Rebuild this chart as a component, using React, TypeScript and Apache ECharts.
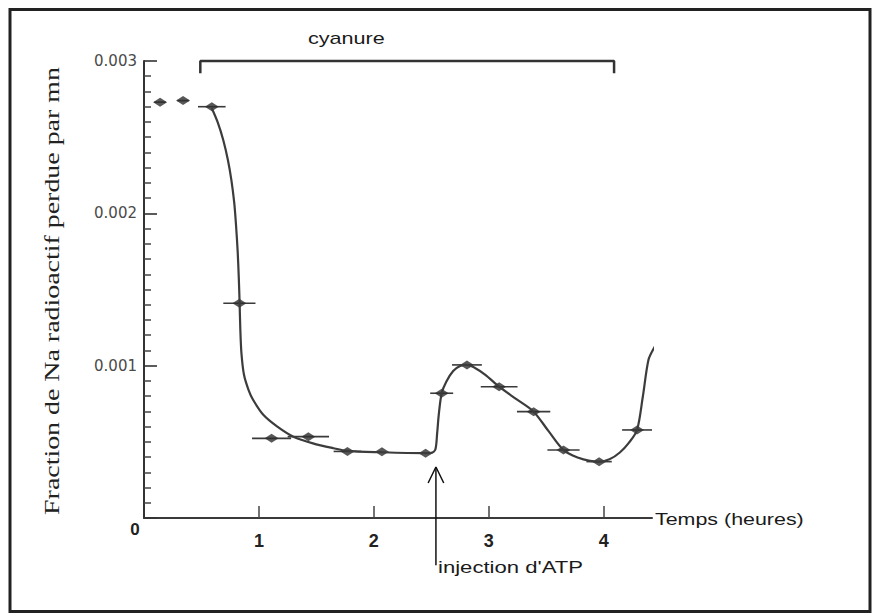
import React, { useEffect, useRef } from "react";
import * as echarts from "echarts";

// Measured points (hours, fraction per minute) and horizontal error half-widths (hours)
const pointX = [0.14, 0.34, 0.59, 0.83, 1.11, 1.43, 1.77, 2.07, 2.45, 2.59, 2.81, 3.09, 3.39, 3.65, 3.96, 4.29];
const pointY = [0.00273, 0.00274, 0.0027, 0.00141, 0.000523, 0.000534, 0.000437, 0.000435, 0.000425, 0.000819, 0.001005, 0.000862, 0.000698, 0.000446, 0.00037, 0.000578];
const pointErr = [0.05, 0.05, 0.12, 0.14, 0.17, 0.18, 0.12, 0, 0, 0.1, 0.13, 0.16, 0.145, 0.14, 0.11, 0.13];

// Hand-drawn fitted curve
const curveX = [0.59, 0.64, 0.69, 0.73, 0.76, 0.785, 0.8, 0.815, 0.825, 0.832, 0.838, 0.848, 0.87, 0.91, 0.95, 1.04, 1.16, 1.3, 1.47, 1.65, 1.77, 2.06, 2.43, 2.5, 2.535, 2.55, 2.565, 2.59, 2.63, 2.69, 2.75, 2.81, 2.88, 2.97, 3.09, 3.24, 3.39, 3.52, 3.65, 3.78, 3.88, 3.96, 4.05, 4.14, 4.22, 4.29, 4.34, 4.39, 4.44, 4.48];
const curveY = [0.00269, 0.0026, 0.00248, 0.00235, 0.00222, 0.00207, 0.00193, 0.00175, 0.00157, 0.00141, 0.00124, 0.00108, 0.00094, 0.00084, 0.000775, 0.000676, 0.0006, 0.000534, 0.00049, 0.000458, 0.000441, 0.000432, 0.000426, 0.000428, 0.00045, 0.00055, 0.00068, 0.000819, 0.000895, 0.000965, 0.000998, 0.001005, 0.000985, 0.00094, 0.000862, 0.00078, 0.000698, 0.00057, 0.000446, 0.000395, 0.000375, 0.00037, 0.000385, 0.00043, 0.000495, 0.000578, 0.000796, 0.00104, 0.00112, 0.00117];

// Cyanide bracket (hours) and ATP injection time (hours)
const cyanideStart = 0.49;
const cyanideEnd = 4.09;
const bracketTop = 0.003;
const bracketLeg = 0.00292;
const atpTime = 2.54;
const arrowTip = 0.000335;
const arrowBase = -0.00031;
const arrowHeadHalf = 0.068;
const arrowHeadY = 0.00023;

const xTicks = [1, 2, 3, 4];
const yTicks = [0, 0.001, 0.002, 0.003];

const labels = {
  yTitle: "Fraction de Na radioactif perdue par mn",
  xTitle: "Temps (heures)",
  cyanide: "cyanure",
  atp: "injection d'ATP",
  origin: "0",
};

export default function App() {
  const ref = useRef<HTMLDivElement>(null);

  useEffect(() => {
    const chart = echarts.init(ref.current!, null, { renderer: "svg" });
    const curveData = curveX.map((x, i) => [x, curveY[i]]);
    const pointData = pointX.map((x, i) => [x, pointY[i]]);
    const errData = pointX.map((x, i) => [x, pointY[i], pointErr[i]]);

    chart.setOption({
      animation: false,
      backgroundColor: "#ffffff",
      grid: { left: 144, right: 221, top: 61, bottom: 97, containLabel: false },
      xAxis: {
        type: "value",
        min: 0,
        max: 4.42,
        interval: 1,
        axisLine: { show: true, lineStyle: { color: "#3a3a3a", width: 2 } },
        axisTick: {
          show: true,
          inside: true,
          length: 12,
          customValues: xTicks,
          lineStyle: { color: "#444", width: 1.5 },
        },
        axisLabel: {
          customValues: xTicks,
          margin: 14,
          fontFamily: "Liberation Sans, Arial, sans-serif",
          fontSize: 18,
          fontWeight: "bold",
          color: "#222",
          formatter: (v: number) => (xTicks.includes(v) ? String(v) : ""),
        },
        splitLine: { show: false },
      },
      yAxis: {
        type: "value",
        min: 0,
        max: 0.003,
        interval: 0.001,
        axisLine: { show: true, lineStyle: { color: "#333", width: 2 } },
        axisTick: { show: true, inside: true, length: 13, lineStyle: { color: "#333", width: 1.6 } },
        minorTick: { show: true, splitNumber: 10, length: 7, lineStyle: { color: "#444", width: 1.5 } },
        axisLabel: {
          customValues: yTicks,
          margin: 7,
          fontFamily: "DejaVu Sans, sans-serif",
          fontSize: 15,
          color: "#4a4a4a",
          formatter: (v: number) => (v === 0 ? "" : v.toFixed(3)),
        },
        splitLine: { show: false },
        minorSplitLine: { show: false },
      },
      graphic: [
        {
          type: "rect",
          shape: { x: 10, y: 9.5, width: 860, height: 602 },
          style: { fill: "none", stroke: "#222", lineWidth: 3 },
          silent: true,
        },
        {
          type: "text",
          x: 52,
          y: 291,
          rotation: Math.PI / 2,
          scaleX: 1.33,
          style: {
            text: labels.yTitle,
            font: "21px 'Liberation Serif', 'Times New Roman', serif",
            fill: "#222",
            align: "center",
            verticalAlign: "middle",
          },
        },
        {
          type: "text",
          x: 135,
          y: 529,
          style: {
            text: labels.origin,
            font: "bold 17px 'Liberation Sans', Arial, sans-serif",
            fill: "#222",
            align: "center",
            verticalAlign: "middle",
          },
        },
        {
          type: "text",
          x: 308,
          y: 38,
          scaleX: 1.27,
          style: {
            text: labels.cyanide,
            font: "17px 'Liberation Sans', Arial, sans-serif",
            fill: "#1a1a1a",
            align: "left",
            verticalAlign: "middle",
          },
        },
        {
          type: "text",
          x: 438,
          y: 567,
          scaleX: 1.3,
          style: {
            text: labels.atp,
            font: "17px 'Liberation Sans', Arial, sans-serif",
            fill: "#1a1a1a",
            align: "left",
            verticalAlign: "middle",
          },
        },
        {
          type: "text",
          x: 655,
          y: 519,
          scaleX: 1.26,
          style: {
            text: labels.xTitle,
            font: "17px 'Liberation Sans', Arial, sans-serif",
            fill: "#1a1a1a",
            align: "left",
            verticalAlign: "middle",
          },
        },
      ],
      series: [
        {
          type: "line",
          name: "bracket",
          data: [
            [cyanideStart, bracketLeg],
            [cyanideStart, bracketTop],
            [cyanideEnd, bracketTop],
            [cyanideEnd, bracketLeg],
          ],
          symbol: "none",
          clip: false,
          lineStyle: { color: "#333", width: 2.5 },
          silent: true,
        },
        {
          type: "line",
          name: "arrow",
          data: [
            [atpTime, arrowBase],
            [atpTime, arrowTip],
          ],
          symbol: "none",
          clip: false,
          lineStyle: { color: "#111", width: 1.5 },
          silent: true,
        },
        {
          type: "line",
          name: "arrowHead",
          data: [
            [atpTime - arrowHeadHalf, arrowHeadY],
            [atpTime, arrowTip],
            [atpTime + arrowHeadHalf, arrowHeadY],
          ],
          symbol: "none",
          clip: false,
          lineStyle: { color: "#111", width: 1.5 },
          silent: true,
        },
        {
          type: "line",
          name: "curve",
          data: curveData,
          smooth: 0.3,
          symbol: "none",
          clip: false,
          lineStyle: { color: "#3c3c3c", width: 2.2 },
          silent: true,
        },
        {
          type: "custom",
          name: "errors",
          data: errData,
          encode: { x: 0, y: 1 },
          clip: false,
          silent: true,
          renderItem: (params: any, api: any) => {
            const x = api.value(0);
            const y = api.value(1);
            const e = api.value(2);
            if (!e) return null;
            const p1 = api.coord([x - e, y]);
            const p2 = api.coord([x + e, y]);
            return {
              type: "line",
              shape: { x1: p1[0], y1: p1[1], x2: p2[0], y2: p2[1] },
              style: { stroke: "#3a3a3a", lineWidth: 1.6 },
            };
          },
        },
        {
          type: "scatter",
          name: "points",
          data: pointData,
          symbol: "diamond",
          symbolSize: [14, 9],
          clip: false,
          itemStyle: { color: "#2e2e2e" },
          silent: true,
        },
      ],
    });

    return () => chart.dispose();
  }, []);

  return (
    <div
      ref={ref}
      style={{ position: "fixed", left: 0, top: 0, width: 873, height: 615, background: "#fff" }}
    />
  );
}
